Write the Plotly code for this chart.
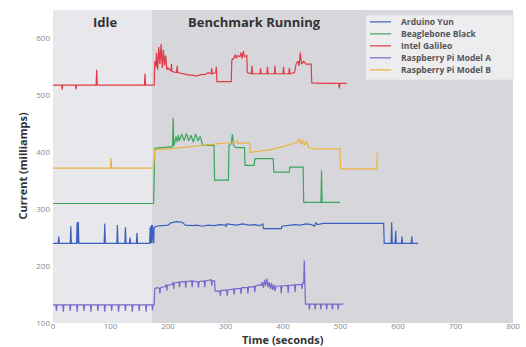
import plotly.graph_objects as go

# ---------------- data ----------------
yun_t = [0, 9, 10, 11, 30, 31, 32, 41, 42, 43, 44, 45, 89, 90, 91, 111, 112, 113, 125, 126, 127,
         133, 134, 135, 145, 146, 147, 168, 169, 170, 171, 172, 173, 174, 175, 176, 180, 190, 200,
         205, 215, 225, 230, 245, 250, 260, 270, 280, 290, 300, 301, 302, 310, 320, 330, 340, 350,
         360, 365, 366, 390, 397, 398, 410, 420, 430, 440, 450, 455, 457, 460, 470, 480, 500, 520,
         540, 560, 575, 576, 588, 589, 590, 595, 596, 597, 606, 607, 608, 623, 624, 625, 635]
yun_ma = [240, 240, 252, 240, 240, 270, 240, 240, 277, 240, 278, 240, 240, 275, 240, 240, 272, 240, 240, 268, 240,
          240, 250, 240, 240, 258, 240, 240, 268, 240, 272, 240, 272, 240, 240, 268, 270, 271, 272,
          276, 278, 277, 272, 271, 272, 270, 272, 271, 273, 272, 269, 274, 273, 272, 274, 272, 273,
          271, 274, 266, 266, 266, 270, 271, 273, 272, 274, 273, 270, 276, 273, 275, 275, 275, 275,
          275, 275, 275, 240, 240, 277, 240, 240, 262, 240, 240, 252, 240, 240, 252, 240, 240]

bbb_t = [0, 175, 177, 190, 205, 208, 209, 210, 212, 214, 216, 218, 220, 224, 228, 232, 236, 240, 244,
         248, 252, 256, 259, 260, 280, 281, 305, 306, 310, 312, 314, 318, 333, 334, 350, 351, 383, 384,
         411, 412, 435, 436, 466, 467, 468, 499]
bbb_ma = [310, 310, 407, 408, 409, 410, 460, 412, 418, 428, 418, 430, 420, 432, 420, 433, 420, 430, 418,
          432, 420, 428, 418, 412, 412, 351, 351, 412, 415, 432, 412, 408, 408, 377, 377, 389, 389, 365,
          365, 374, 374, 312, 312, 368, 312, 312]

gal_t = [0, 15, 16, 17, 39, 40, 41, 75, 76, 77, 159, 160, 161, 176, 177, 179, 180, 182, 184, 186, 188,
         190, 192, 194, 196, 198, 200, 205, 206, 207, 215, 216, 217, 225, 235, 245, 250, 255, 265, 270,
         275, 276, 277, 283, 284, 285, 310, 311, 315, 317, 319, 321, 325, 327, 329, 331, 333, 337, 338,
         345, 346, 347, 360, 361, 362, 372, 373, 374, 385, 386, 387, 400, 401, 402, 410, 411, 412, 420,
         423, 426, 428, 430, 432, 436, 440, 449, 450, 470, 490, 497, 498, 499, 511]
gal_ma = [518, 518, 510, 518, 518, 511, 518, 518, 545, 518, 518, 538, 518, 518, 560, 550, 575, 545, 585, 555, 590,
          548, 580, 552, 570, 545, 548, 543, 555, 542, 540, 552, 540, 538, 536, 535, 534, 536, 537, 540,
          538, 548, 538, 540, 550, 524, 524, 562, 566, 572, 565, 570, 568, 575, 565, 578, 568, 570, 540,
          538, 552, 538, 538, 548, 538, 538, 550, 538, 538, 552, 538, 538, 550, 538, 538, 548, 538, 540,
          556, 560, 552, 575, 555, 560, 555, 555, 522, 521, 521, 521, 512, 521, 521]

rpa_t = [0, 5, 6, 7, 17, 18, 19, 29, 30, 31, 41, 42, 43, 53, 54, 55, 65, 66, 67, 77, 78, 79, 89, 90, 91,
         101, 102, 103, 113, 114, 115, 125, 126, 127, 137, 138, 139, 149, 150, 151, 161, 162, 163, 172,
         173, 174, 176, 177, 180, 185, 186, 187, 195, 197, 198, 199, 207, 209, 210, 211, 219, 220, 221,
         230, 231, 232, 241, 242, 243, 252, 253, 254, 263, 264, 265, 273, 275, 276, 277, 281, 282, 290,
         291, 292, 302, 303, 304, 314, 315, 316, 326, 327, 328, 338, 339, 340, 350, 351, 352, 360, 362,
         364, 366, 368, 370, 372, 374, 376, 378, 380, 382, 384, 386, 388, 396, 397, 398, 408, 409, 410,
         420, 421, 422, 432, 433, 434, 436, 437, 438, 439, 445, 446, 447, 455, 456, 457, 465, 466, 467,
         475, 476, 477, 485, 486, 487, 495, 496, 497, 505]
rpa_ma = [132, 132, 121, 132, 132, 120, 132, 132, 121, 132, 132, 120, 132, 132, 121, 132, 132, 120, 132, 132, 121, 132, 132, 120, 132,
          132, 121, 132, 132, 120, 132, 132, 121, 132, 132, 120, 132, 132, 121, 132, 132, 120, 132, 132,
          122, 132, 132, 160, 162, 161, 152, 162, 164, 168, 157, 166, 168, 172, 160, 170, 172, 163, 172,
          173, 162, 173, 174, 163, 174, 172, 162, 173, 174, 163, 174, 175, 176, 165, 174, 174, 156, 156,
          148, 157, 158, 148, 158, 160, 150, 160, 161, 151, 162, 162, 152, 163, 164, 154, 165, 167, 166,
          172, 162, 176, 165, 178, 163, 172, 160, 170, 158, 168, 156, 165, 165, 152, 165, 166, 153, 166,
          167, 154, 167, 168, 160, 170, 170, 210, 170, 133, 133, 124, 133, 133, 124, 133, 133, 124, 133,
          133, 124, 133, 133, 124, 133, 133, 124, 133, 133]

rpb_t = [0, 100, 101, 102, 175, 177, 200, 220, 240, 260, 280, 300, 318, 320, 322, 342, 343, 360, 380,
         400, 420, 425, 428, 431, 434, 437, 440, 444, 447, 452, 499, 500, 563, 564]
rpb_ma = [372, 372, 390, 372, 372, 405, 406, 408, 410, 412, 414, 416, 418, 420, 416, 416, 400, 402, 405,
          410, 416, 418, 424, 414, 422, 412, 420, 410, 408, 406, 406, 371, 371, 400]

series_names = ["Arduino Yun", "Beaglebone Black", "Intel Galileo",
                "Raspberry Pi Model A", "Raspberry Pi Model B"]
series_t = [yun_t, bbb_t, gal_t, rpa_t, rpb_t]
series_y = [yun_ma, bbb_ma, gal_ma, rpa_ma, rpb_ma]
series_colors = ["#3d5fbf", "#3aa65e", "#e03a48", "#7868cc", "#e8b43c"]

x_ticks = [0, 100, 200, 300, 400, 500, 600, 700, 800]
y_ticks = [100, 200, 300, 400, 500, 600]
phase_start = [0, 172]
phase_end = [172, 800]
phase_labels = ["Idle", "Benchmark Running"]
phase_label_x = [90, 350]
phase_fill = ["#e7e7ec", "#d7d7db"]

# ---------------- figure ----------------
fig = go.Figure()
for name, t, y, c in zip(series_names, series_t, series_y, series_colors):
    fig.add_trace(go.Scatter(x=t, y=y, mode="lines", name=name,
                             line=dict(color=c, width=1.2)))

for x0, x1, col in zip(phase_start, phase_end, phase_fill):
    fig.add_shape(type="rect", xref="x", yref="paper", x0=x0, x1=x1, y0=0, y1=1,
                  fillcolor=col, line=dict(width=0), layer="below")

for lab, lx in zip(phase_labels, phase_label_x):
    fig.add_annotation(x=lx, y=1, xref="x", yref="paper", yanchor="top", yshift=-1,
                       text="<b>" + lab + "</b>", showarrow=False,
                       font=dict(family="Open Sans", size=13, color="#333333"))

# custom compact legend (box, line samples, labels) in paper coordinates
leg_x0, leg_x1, leg_top, leg_bottom = 0.680, 1.0, 0.984, 0.776
leg_step = 0.0383
fig.add_shape(type="rect", xref="paper", yref="paper", x0=leg_x0, x1=leg_x1,
              y0=leg_bottom, y1=leg_top, fillcolor="rgba(238,238,241,0.95)",
              line=dict(color="#dcdce0", width=1), layer="above")
for i, (name, c) in enumerate(zip(series_names, series_colors)):
    yy = 0.962 - i * leg_step
    fig.add_shape(type="line", xref="paper", yref="paper", x0=0.689, x1=0.735,
                  y0=yy, y1=yy, line=dict(color=c, width=1.2), layer="above")
    fig.add_annotation(x=0.752, y=yy, xref="paper", yref="paper", xanchor="left",
                       yanchor="middle", text="<b>" + name + "</b>", showarrow=False,
                       font=dict(family="Open Sans", size=8.5, color="#555555"))

fig.add_annotation(x=0.5, y=0, xref="paper", yref="paper", yanchor="middle", yshift=-16.5,
                   text="<b>Time (seconds)</b>", showarrow=False,
                   font=dict(family="Open Sans", size=11, color="#333333"))
fig.add_annotation(x=0, y=0.5, xref="paper", yref="paper", xanchor="center", xshift=-31,
                   text="<b>Current (milliamps)</b>", showarrow=False, textangle=-90,
                   font=dict(family="Open Sans", size=11, color="#333333"))

fig.update_layout(
    width=526, height=347,
    margin=dict(l=53, r=13, t=10, b=24),
    paper_bgcolor="white",
    plot_bgcolor="#e4e4e8",
    font=dict(family="Open Sans", color="#777777"),
    showlegend=False,
    xaxis=dict(range=[0, 800], tickvals=x_ticks, showgrid=False, zeroline=False,
               ticks="", tickfont=dict(size=8, color="#8a8a8a"), showline=False,
               automargin=False, ticklabelstandoff=-3),
    yaxis=dict(range=[100, 650], tickvals=y_ticks, showgrid=False, zeroline=False,
               ticks="", tickfont=dict(size=8, color="#8a8a8a"), showline=False,
               automargin=False, ticklabelstandoff=2),
)

fig.write_html("out.html", config={"displayModeBar": False},
               post_script="document.body.style.margin='0';")
